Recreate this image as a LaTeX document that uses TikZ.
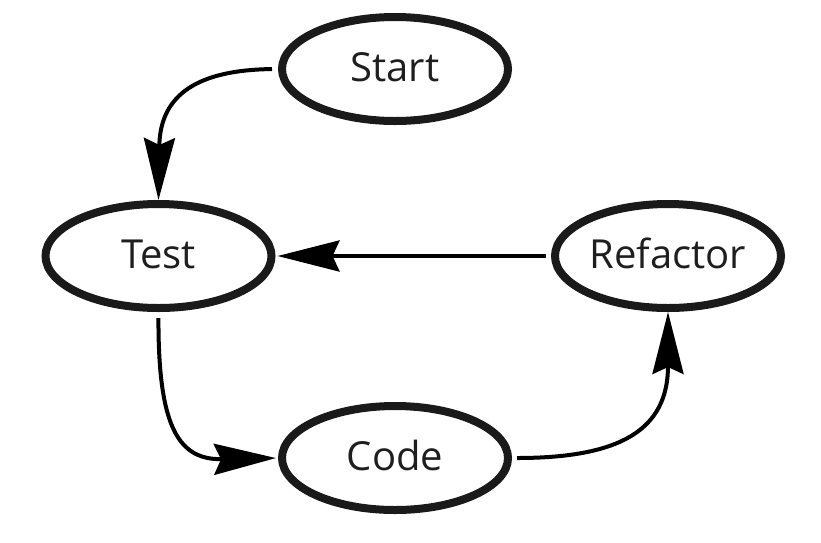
\documentclass[tikz,border=0pt]{standalone}
\usepackage{fontspec}
\setmainfont{Open Sans}
\usetikzlibrary{arrows.meta,shapes.geometric}
\definecolor{ink}{HTML}{1A1A1A}
\definecolor{txt}{HTML}{1E1E1E}
\tikzset{
  state/.style={ellipse, draw=ink, line width=8pt, minimum width=226pt, minimum height=104pt, inner sep=0pt, text height=24pt, text depth=0pt, text=txt, font=\fontsize{40}{48}\selectfont},
  arr/.style={line width=4pt, -{Stealth[length=62pt, width=31pt, inset=7pt]}}
}
\begin{document}
\begin{tikzpicture}[x=1pt,y=-1pt]
\useasboundingbox (0,0) rectangle (821,542);
\node[state] (start) at (395,69) {Start};
\node[state] (test) at (158.5,256) {Test};
\node[state] (refactor) at (668,256) {Refactor};
\node[state] (code) at (395,458) {Code};
\draw[arr, shorten <=6pt] (start.west) .. controls (190,70) and (160,100) .. (test.north);
\draw[arr, shorten <=6pt, shorten >=2pt] (test.south) .. controls (158,430) and (180,460) .. (code.west);
\draw[arr, shorten <=5pt] (code.east) .. controls (620,458) and (668,430) .. (refactor.south);
\draw[arr, shorten <=5pt, shorten >=2pt] (refactor.west) -- (test.east);
\end{tikzpicture}
\end{document}
